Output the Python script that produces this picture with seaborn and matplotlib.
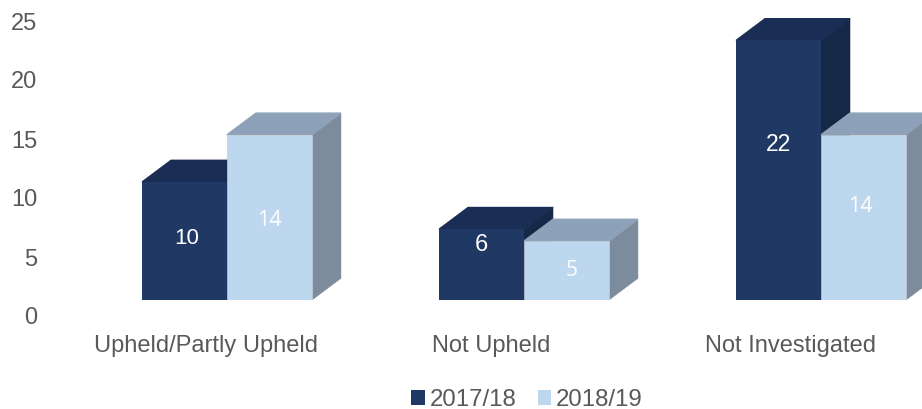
# 3D looking clustered bars, seaborn draws the front faces and the depth gets added on top
import matplotlib
matplotlib.use("Agg")
import matplotlib.pyplot as plt
from matplotlib.patches import Polygon
from matplotlib.transforms import ScaledTranslation
import pandas as pd
import seaborn as sns

categories = ["Upheld/Partly Upheld", "Not Upheld", "Not Investigated"]
years = ["2017/18", "2018/19"]
values_2017 = [10, 6, 22]
values_2018 = [14, 5, 14]
y_ticks = [0, 5, 10, 15, 20, 25]

front_colors = ["#1F3864", "#BDD7EE"]
top_colors = ["#1A2E55", "#8DA2B8"]
side_colors = ["#162848", "#7C8C9D"]
grey = "#595959"

sns.set_style("white")
plt.rcParams["font.family"] = ["Liberation Sans", "DejaVu Sans"]

df = pd.DataFrame({
    "category": categories * 2,
    "year": [years[0]] * 3 + [years[1]] * 3,
    "value": values_2017 + values_2018,
})

W, H = 922, 409
fig = plt.figure(figsize=(W / 100, H / 100), dpi=100)

# axes start at the front bottom of the bars, category 0 is centred on x=227
px_per_unit = 11.8
px_per_cat = 297
left = 79
ax = fig.add_axes([left / W, (H - 300) / H, (W - left) / W, 300 / H])

sns.barplot(data=df, x="category", y="value", hue="year", order=categories,
            hue_order=years, palette=front_colors, saturation=1, width=0.572,
            gap=0, edgecolor="none", ax=ax, zorder=3)
ax.set_xlim((left - 227) / px_per_cat, (W - 227) / px_per_cat)
ax.set_ylim(0, 300 / px_per_unit)

# thin grey outline only shows on the light bars
for bar in ax.containers[1]:
    bar.set_edgecolor("#C4CCD4")
    bar.set_linewidth(0.5)

# depth faces, the thicker edge closes the gap to the snapped front rectangle
dx = 29 / px_per_cat
dy = 21.7 / px_per_unit
for i, container in enumerate(ax.containers):
    for bar in container:
        x0, x1 = bar.get_x(), bar.get_x() + bar.get_width()
        top = bar.get_height()
        ax.add_patch(Polygon([(x1, 0), (x1 + dx, dy), (x1 + dx, top + dy), (x1, top)],
                             fc=side_colors[i], ec=side_colors[i], lw=0.4, zorder=1 + i))
        ax.add_patch(Polygon([(x0, top), (x0 + dx, top + dy), (x1 + dx, top + dy), (x1, top)],
                             fc=top_colors[i], ec=top_colors[i], lw=1.0, zorder=1 + i))

# value labels, they don't sit at the bar centres in the original (shift in px)
label_shift = [[(2, 2), (0, 20), (0, 26)], [(0, -3), (5, 0), (-3, 11)]]
label_size = [[16, 17, 16.5], [15.5, 15, 15.5]]
for i, container in enumerate(ax.containers):
    for j, bar in enumerate(container):
        sx, sy = label_shift[i][j]
        ax.annotate(str(int(bar.get_height())),
                    (bar.get_x() + bar.get_width() / 2, bar.get_height() / 2),
                    xytext=(sx * 0.72, sy * 0.72), textcoords="offset points",
                    ha="center", va="center", color="white", zorder=5,
                    fontsize=label_size[i][j],
                    family="Liberation Sans" if i == 0 else "Open Sans")

# axis text
ax.set_yticks(y_ticks)
ax.set_yticklabels(y_ticks, fontsize=17, color=grey)
ax.tick_params(axis="y", length=0, pad=30)
down = ScaledTranslation(0, -16 / 100, fig.dpi_scale_trans)
for lab in ax.get_yticklabels():
    lab.set_transform(lab.get_transform() + down)

ax.set_xticks([-0.07, 0.889, 1.896])
ax.set_xticklabels(categories, fontsize=17, color=grey)
ax.tick_params(axis="x", length=0, pad=25)
ax.set_xlabel("")
ax.set_ylabel("")
sns.despine(ax=ax, left=True, bottom=True)

handles, labels = ax.get_legend_handles_labels()
ax.legend(handles, labels, loc="center", bbox_to_anchor=(527 / W, (H - 400) / H),
          bbox_transform=fig.transFigure, ncol=2, frameon=False, fontsize=17.3,
          labelcolor=grey, handlelength=0.55, handleheight=0.55, handletextpad=0.2,
          columnspacing=0.9, borderpad=0)

fig.savefig("out.png", dpi=100)
